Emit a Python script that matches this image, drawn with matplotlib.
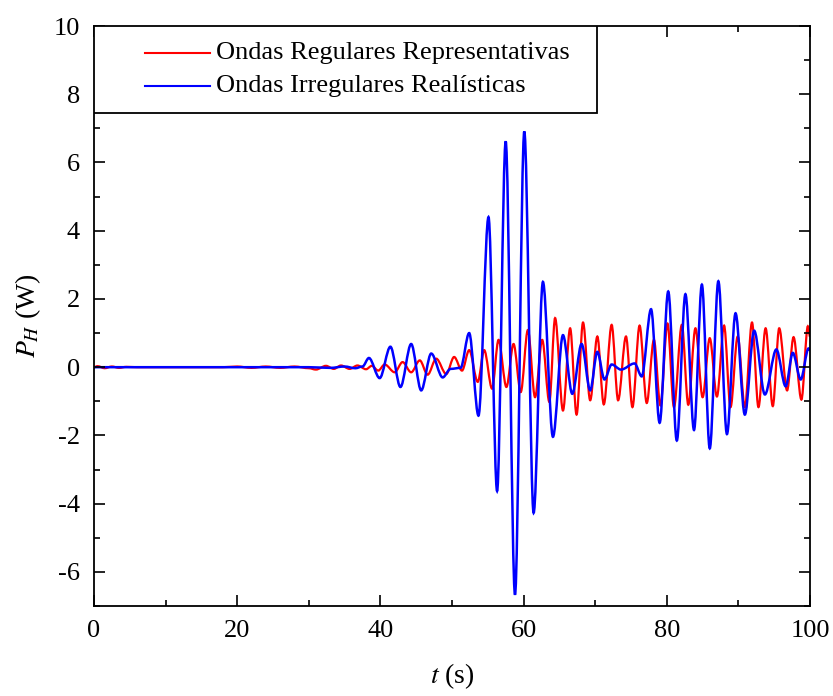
import matplotlib
matplotlib.use("Agg")
import matplotlib.pyplot as plt
from matplotlib.path import Path
from matplotlib.patches import PathPatch, Rectangle
from matplotlib.ticker import MultipleLocator

plt.rcParams['font.family'] = ['Liberation Serif', 'DejaVu Serif']
plt.rcParams['mathtext.fontset'] = 'stix'
plt.rcParams['axes.unicode_minus'] = False

# extrema (t in s, P_H in W)
t_reg = [0, 0.5, 1.5, 2.5, 3.5, 4.5, 6, 18, 20, 22, 24, 26, 28, 30, 31, 32.4, 33.5,
         34.5, 35.7, 36.8, 38, 38.8, 39.7, 40.6, 42.0, 43.1, 44.3, 45.5, 46.6, 47.8,
         49.2, 50.3, 51.4, 52.4, 53.6, 54.5, 55.6, 56.5, 57.6, 58.6, 59.6, 60.6, 61.6,
         62.6, 63.6, 64.4, 65.5, 66.5, 67.4, 68.3, 69.3, 70.3, 71.2, 72.3, 73.2, 74.3,
         75.2, 76.2, 77.2, 78.2, 79.1, 80.1, 81.0, 82.1, 83.0, 84.0, 85.0, 86.0, 87.0,
         88.0, 88.9, 89.9, 90.9, 91.9, 92.8, 93.8, 94.8, 95.7, 96.8, 97.7, 98.8, 99.7, 100]
p_reg = [0, 0.03, -0.03, 0.02, -0.02, 0.01, 0, 0, 0.02, -0.02, 0.02, -0.02, 0.02, -0.03,
         -0.07, 0.04, -0.05, 0.05, -0.05, 0.05, -0.06, 0.04, -0.1, 0.08, -0.15, 0.15,
         -0.15, 0.2, -0.22, 0.25, -0.2, 0.3, -0.1, 0.5, -0.43, 0.5, -0.63, 0.8, -0.58,
         0.68, -0.73, 1.09, -0.88, 0.8, -1.02, 1.44, -1.27, 1.14, -1.39, 1.31, -0.97,
         0.9, -1.09, 1.24, -0.97, 0.9, -1.17, 1.22, -1.05, 0.8, -1.12, 1.28, -1.17, 1.24,
         -1.1, 1.14, -0.88, 0.85, -0.86, 1.22, -1.17, 0.9, -1.17, 1.31, -1.17, 1.14,
         -1.14, 1.14, -0.68, 0.88, -0.95, 1.2, 0.9]

t_irr = [0, 30, 33, 35, 36.5, 37.5, 38.4, 39.9, 41.4, 42.8, 44.3, 45.7, 47.1, 48.7,
         49.8, 51.2, 52.4, 53.7, 55.1, 56.3, 57.5, 58.8, 60.1, 61.4, 62.7, 64.1, 65.5,
         66.8, 68.1, 69.3, 70.3, 71.3, 72.3, 73.6, 75.5, 76.5, 77.8, 79.0, 80.2, 81.4,
         82.6, 83.8, 84.9, 86.0, 87.2, 88.4, 89.6, 90.9, 92.2, 93.7, 95.3, 96.6, 97.6,
         98.7, 99.8, 100]
p_irr = [0, 0, -0.02, 0.02, -0.03, 0.02, 0.27, -0.32, 0.6, -0.58, 0.68, -0.68, 0.4, -0.3,
         -0.05, -0.02, 1.0, -1.42, 4.4, -3.63, 6.62, -6.67, 6.91, -4.27, 2.5, -2.04, 0.94,
         -0.78, 0.68, -0.68, 0.45, -0.36, 0.08, -0.07, 0.11, -0.27, 1.7, -1.63, 2.22,
         -2.15, 2.14, -1.84, 2.42, -2.38, 2.52, -1.96, 1.58, -1.39, 1.07, -0.8, 0.52,
         -0.56, 0.42, -0.36, 0.55, 0.5]

labels = ['Ondas Regulares Representativas', 'Ondas Irregulares Realísticas']
colors = ['#ff0000', '#0000ff']


def smooth_path(t, p):
    # cubic segments between the read extrema, flat tangent at each one
    verts = [(t[0], p[0])]
    codes = [Path.MOVETO]
    for i in range(1, len(t)):
        dt = t[i] - t[i - 1]
        verts += [(t[i - 1] + dt / 3, p[i - 1]), (t[i] - dt / 3, p[i]), (t[i], p[i])]
        codes += [Path.CURVE4] * 3
    return Path(verts, codes)


fig = plt.figure(figsize=(8.33, 6.96), dpi=100)
ax = fig.add_axes([0.1128, 0.1293, 0.8596, 0.8333])

ax.add_patch(PathPatch(smooth_path(t_reg, p_reg), facecolor='none', edgecolor=colors[0], lw=1.6))
ax.add_patch(PathPatch(smooth_path(t_irr, p_irr), facecolor='none', edgecolor=colors[1], lw=1.8))

ax.set_xlim(0, 100)
ax.set_ylim(-7, 10)
ax.xaxis.set_major_locator(MultipleLocator(20))
ax.xaxis.set_minor_locator(MultipleLocator(10))
ax.yaxis.set_major_locator(MultipleLocator(2))
ax.yaxis.set_minor_locator(MultipleLocator(1))
ax.tick_params(which='both', direction='in', top=True, right=True, labelsize=19, width=1.2)
ax.tick_params(which='major', length=8, pad=10)
ax.tick_params(which='minor', length=4.5)
for s in ax.spines.values():
    s.set_linewidth(1.3)

ax.set_xlabel(r'$t$ (s)', fontsize=20, labelpad=14)
ax.set_ylabel(r'$P_H$ (W)', fontsize=20, labelpad=8)

# legend box drawn by hand to match the wide left padding
ax.add_patch(Rectangle((0, 0.85), 0.7025, 0.15, transform=ax.transAxes, facecolor='white',
                       edgecolor='black', lw=1.3, zorder=5))
for i, (lab, col) in enumerate(zip(labels, colors)):
    yy = 0.9534 - i * 0.0574
    ax.plot([0.0712, 0.162], [yy, yy], color=col, lw=1.5, transform=ax.transAxes, zorder=6)
    ax.text(0.171, yy, lab, fontsize=19, va='center', ha='left', transform=ax.transAxes, zorder=6)

fig.savefig('out.png', dpi=100)
